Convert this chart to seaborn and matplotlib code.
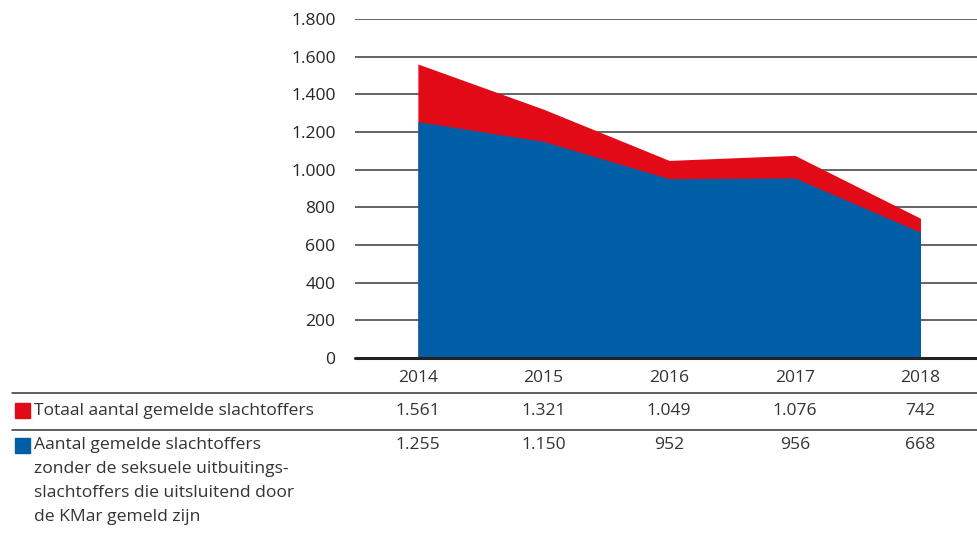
import matplotlib
matplotlib.use("Agg")
import matplotlib.pyplot as plt
import matplotlib.transforms as mtransforms
import seaborn as sns
import pandas as pd

# -----------------------------
# Data
# -----------------------------
years = [2014, 2015, 2016, 2017, 2018]
totaal = [1561, 1321, 1049, 1076, 742]
zonder_kmar = [1255, 1150, 952, 956, 668]
y_ticks = [0, 200, 400, 600, 800, 1000, 1200, 1400, 1600, 1800]

label_totaal = "Totaal aantal gemelde slachtoffers"
label_zonder = ("Aantal gemelde slachtoffers\nzonder de seksuele uitbuitings-\n"
                "slachtoffers die uitsluitend door\nde KMar gemeld zijn")

RED = "#E30A17"
BLUE = "#005EA6"
GRID = "#3a3a3a"
FS = 12.6

sns.set_theme(style="white")
plt.rcParams["font.family"] = ["Open Sans", "DejaVu Sans"]
plt.rcParams["text.color"] = "#333333"

df = pd.DataFrame({"jaar": years, "totaal": totaal, "zonder": zonder_kmar})

fig = plt.figure(figsize=(9.77, 5.33), dpi=100)
ax = fig.add_axes([0.3634, 0.3283, 0.6366, 0.6361])

# Areas
ax.fill_between(df["jaar"], 0, df["totaal"], color=RED, linewidth=0, zorder=2)
ax.fill_between(df["jaar"], 0, df["zonder"], color=BLUE, linewidth=0, zorder=3)
sns.lineplot(data=df, x="jaar", y="totaal", ax=ax, color=RED, linewidth=0, zorder=2)

ax.set_xlim(2013.5, 2018.45)
ax.set_ylim(0, 1800)
ax.set_yticks(y_ticks)
ax.set_yticklabels([f"{v:,}".replace(",", ".") for v in y_ticks], fontsize=FS)
ax.set_xticks([])
ax.set_xlabel("")
ax.set_ylabel("")
for v in y_ticks[1:]:
    ax.axhline(v, color=GRID, linewidth=1.1, zorder=1)
ax.axhline(0, color="#222222", linewidth=2.2, zorder=4, clip_on=False)
for s in ax.spines.values():
    s.set_visible(False)
ax.tick_params(axis="y", length=0, pad=14)

# -----------------------------
# Table underneath
# -----------------------------
trans = mtransforms.blended_transform_factory(ax.transData, fig.transFigure)
for yr in years:
    fig.text(yr, 1 - 378 / 533, str(yr), transform=trans, ha="center", va="center", fontsize=FS)

fig.add_artist(plt.Line2D([12 / 977, 1], [1 - 393 / 533] * 2, color="#333333", linewidth=1.1))
fig.add_artist(plt.Line2D([12 / 977, 1], [1 - 430 / 533] * 2, color="#333333", linewidth=1.1))

# legend squares
fig.add_artist(plt.Rectangle((15 / 977, 1 - 418 / 533), 15 / 977, 15 / 533, color=RED,
                             transform=fig.transFigure))
fig.add_artist(plt.Rectangle((15 / 977, 1 - 453 / 533), 15 / 977, 15 / 533, color=BLUE,
                             transform=fig.transFigure))

fig.text(34 / 977, 1 - 411 / 533, label_totaal, ha="left", va="center", fontsize=FS)
fig.text(34 / 977, 1 - 437 / 533, label_zonder, ha="left", va="top", fontsize=FS,
         linespacing=1.66)

for yr, t, z in zip(years, totaal, zonder_kmar):
    fig.text(yr, 1 - 411 / 533, f"{t:,}".replace(",", "."), transform=trans,
             ha="center", va="center", fontsize=FS)
    fig.text(yr, 1 - 445 / 533, f"{z:,}".replace(",", "."), transform=trans,
             ha="center", va="center", fontsize=FS)

fig.savefig("out.png", dpi=100)
